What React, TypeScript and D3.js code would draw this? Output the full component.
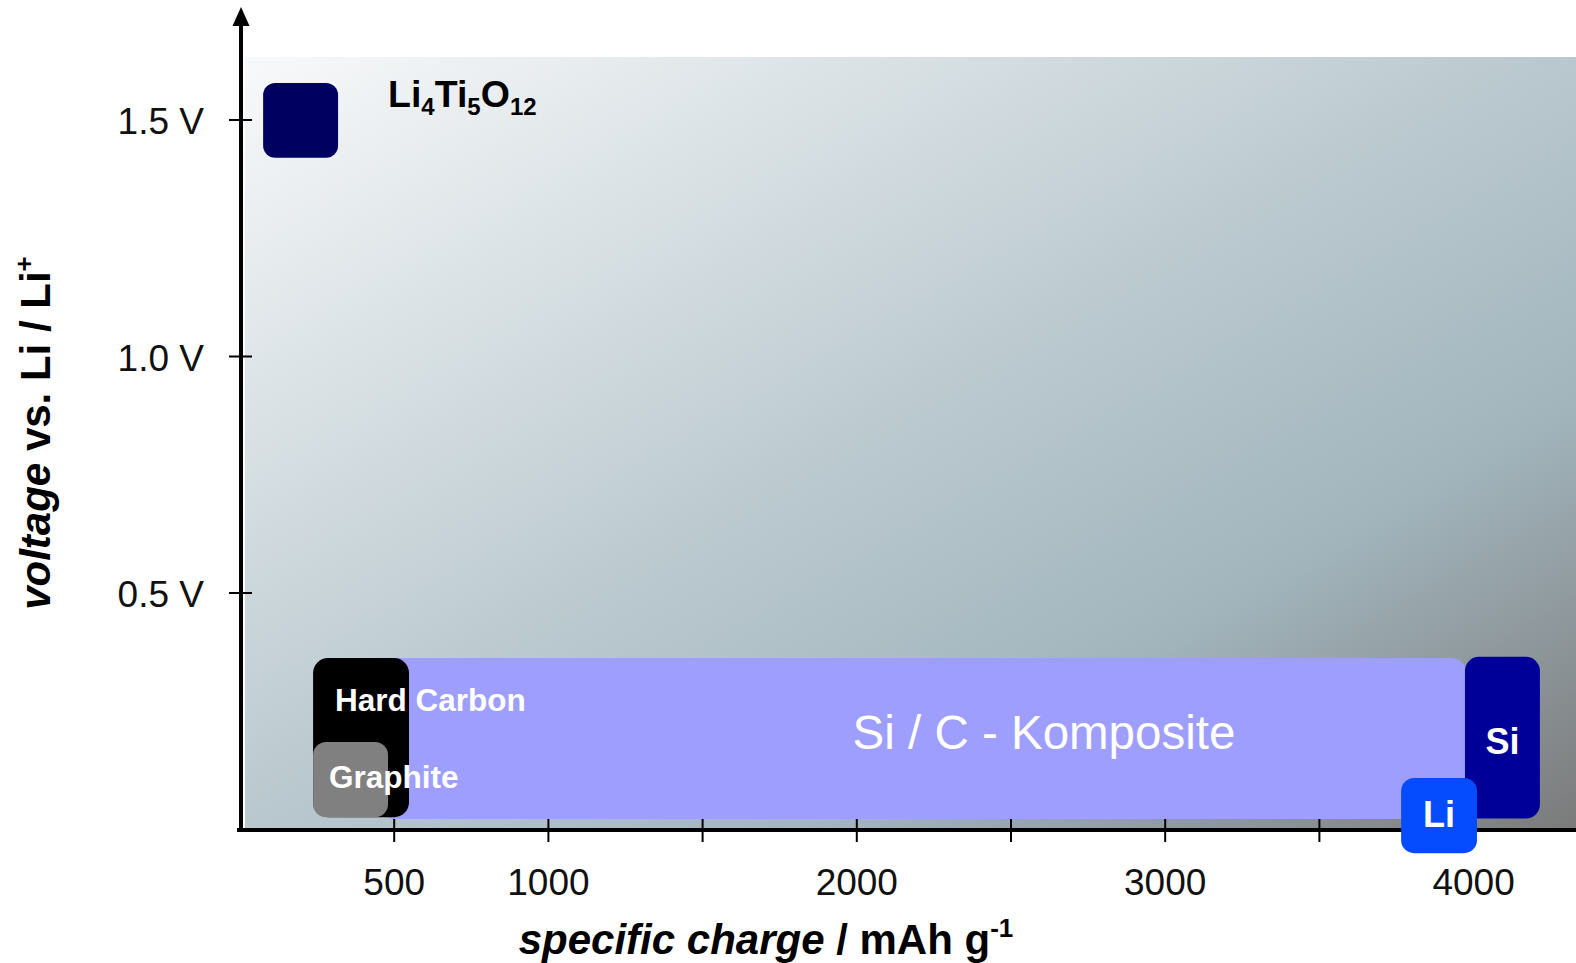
import React from "react";
import * as d3 from "d3";

// ---- data ----
const materials = ["Li4Ti5O12", "Si / C - Komposite", "Hard Carbon", "Graphite", "Si", "Li"];
const chargeStart = [75, 450, 237, 237, 3972, 3765];
const chargeEnd = [318, 3978, 548, 480, 4215, 4011];
const voltLow = [1.42, 0.022, 0.026, 0.026, 0.023, -0.05];
const voltHigh = [1.578, 0.3626, 0.3626, 0.185, 0.365, 0.109];
const boxColors = ["#000060", "#9e9eff", "#000000", "#808080", "#000099", "#054bff"];

const xTickValues = [500, 1000, 1500, 2000, 2500, 3000, 3500, 4000];
const xTickLabels = ["500", "1000", "2000", "3000", "4000"];
const xLabelValues = [500, 1000, 2000, 3000, 4000];
const yTickValues = [0.5, 1.0, 1.5];
const yTickLabels = ["0.5 V", "1.0 V", "1.5 V"];

const W = 1576;
const H = 963;

export default function App() {
  const x = d3.scaleLinear().domain([0, 4000]).range([240, 1473.6]);
  const y = d3.scaleLinear().domain([0, 1.5]).range([829.5, 120]);
  const font = "'Liberation Sans', Arial, Helvetica, sans-serif";

  const box = (i: number, r: number) => {
    const x0 = x(chargeStart[i]);
    const x1 = x(chargeEnd[i]);
    const y0 = y(voltHigh[i]);
    const y1 = y(voltLow[i]);
    return (
      <rect
        key={materials[i]}
        x={x0}
        y={y0}
        width={x1 - x0}
        height={y1 - y0}
        rx={r}
        ry={r}
        fill={boxColors[i]}
      />
    );
  };
  const cx = (i: number) => (x(chargeStart[i]) + x(chargeEnd[i])) / 2;

  return (
    <svg
      width={W}
      height={H}
      style={{ position: "absolute", left: 0, top: 0, display: "block" }}
      fontFamily={font}
    >
      <defs>
        <linearGradient id="bg" x1="0" y1="0" x2="1" y2="1">
          <stop offset="0" stopColor="#f8f9fa" />
          <stop offset="0.5" stopColor="#b9c8ce" />
          <stop offset="0.72" stopColor="#a2b5bd" />
          <stop offset="1" stopColor="#7b7b7b" />
        </linearGradient>
      </defs>
      <rect x={0} y={0} width={W} height={H} fill="#ffffff" />
      <rect x={245} y={57} width={W - 245} height={771} fill="url(#bg)" />

      {/* axes */}
      <line x1={241} y1={20} x2={241} y2={832} stroke="#000" strokeWidth={4} />
      <polygon points="241,7 232.5,26 249.5,26" fill="#000" />
      <line x1={237} y1={830} x2={W} y2={830} stroke="#000" strokeWidth={4} />
      {xTickValues.map((v) => (
        <line key={v} x1={x(v)} x2={x(v)} y1={819} y2={842} stroke="#000" strokeWidth={2} />
      ))}
      {yTickValues.map((v) => (
        <line key={v} x1={229} x2={252} y1={y(v)} y2={y(v)} stroke="#000" strokeWidth={2} />
      ))}
      {xLabelValues.map((v, i) => (
        <text key={v} x={x(v)} y={895} textAnchor="middle" fontSize={37} fill="#111">
          {xTickLabels[i]}
        </text>
      ))}
      {yTickValues.map((v, i) => (
        <text key={v} x={204} y={y(v) + 14} textAnchor="end" fontSize={37} fill="#111">
          {yTickLabels[i]}
        </text>
      ))}

      {/* boxes */}
      {box(0, 12)}
      {box(1, 16)}
      {box(2, 15)}
      {box(3, 13)}
      {box(4, 14)}
      {box(5, 13)}

      {/* box labels */}
      <text x={388} y={107} fontSize={37.5} fontWeight="bold" fill="#000">
        Li<tspan fontSize={24} dy={8}>4</tspan>
        <tspan dy={-8}>Ti</tspan>
        <tspan fontSize={24} dy={8}>5</tspan>
        <tspan dy={-8}>O</tspan>
        <tspan fontSize={24} dy={8}>12</tspan>
      </text>
      <text x={x(chargeStart[2]) + 22} y={y(0.25)} fontSize={31.5} fontWeight="bold" fill="#fff">
        Hard Carbon
      </text>
      <text x={x(chargeStart[3]) + 16} y={y(0.0877)} fontSize={31.5} fontWeight="bold" fill="#fff">
        Graphite
      </text>
      <text x={1044} y={y(0.17)} textAnchor="middle" fontSize={47.5} fill="#fff">
        Si / C - Komposite
      </text>
      <text x={cx(4)} y={y(0.159)} textAnchor="middle" fontSize={36} fontWeight="bold" fill="#fff">
        Si
      </text>
      <text x={cx(5)} y={y(0.006)} textAnchor="middle" fontSize={36} fontWeight="bold" fill="#fff">
        Li
      </text>

      {/* axis titles */}
      <text x={766} y={954} textAnchor="middle" fontSize={42} fontWeight="bold" fill="#000">
        <tspan fontStyle="italic">specific charge</tspan>
        <tspan> / mAh g</tspan>
        <tspan fontSize={26} dy={-17}>-1</tspan>
      </text>
      <text
        transform="translate(50,433) rotate(-90)"
        textAnchor="middle"
        fontSize={42}
        fontWeight="bold"
        fill="#000"
      >
        <tspan fontStyle="italic">voltage</tspan>
        <tspan> vs. Li / Li</tspan>
        <tspan fontSize={26} dy={-17}>+</tspan>
      </text>
    </svg>
  );
}
